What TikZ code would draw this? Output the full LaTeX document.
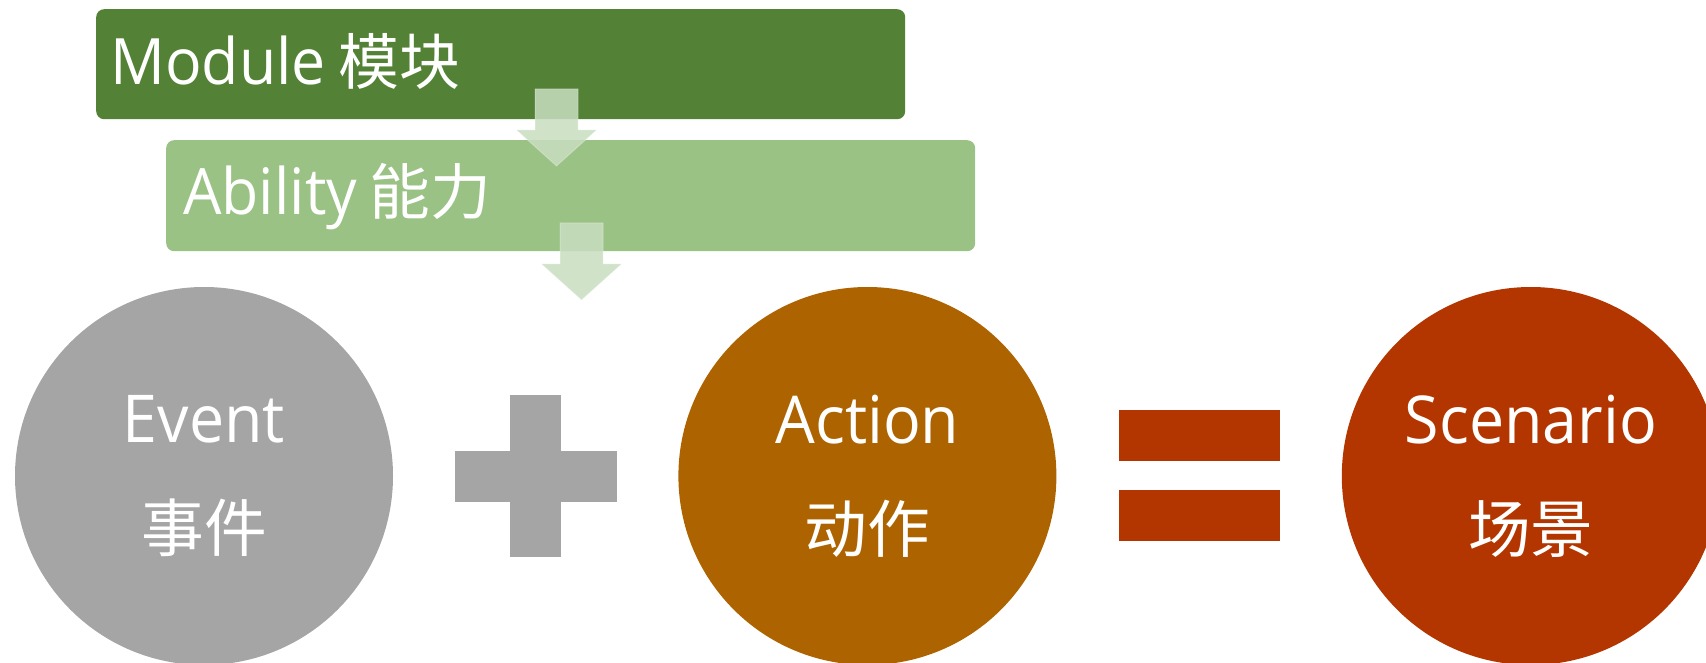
\documentclass[tikz,border=0pt]{standalone}
\usepackage{fontspec}
\setmainfont{Open Sans}[FakeStretch=0.95, WordSpace=0.8]
\newfontfamily\cjk{Noto Sans CJK SC}[Scale=0.95]
\usetikzlibrary{positioning,calc}

\definecolor{moduleGreen}{HTML}{538135}
\definecolor{abilityGreen}{HTML}{9AC285}
\definecolor{arrowGreen}{HTML}{C8DEC0}
\definecolor{eventGray}{HTML}{A5A5A5}
\definecolor{actionOrange}{HTML}{AD6400}
\definecolor{scenarioRed}{HTML}{B33600}

\tikzset{
    layerbox/.style={rectangle, rounded corners=8pt, minimum width=809pt, minimum height=110pt, inner sep=0pt, anchor=north west},
    layertext/.style={text=white, font=\fontsize{64}{77}\selectfont, anchor=base west, inner sep=0pt},
    partcircle/.style={circle, minimum size=378pt, inner sep=0pt, text=white, align=center, font=\fontsize{66}{109}\selectfont},
    flowarrow/.style={fill=arrowGreen, fill opacity=0.85, draw=white, draw opacity=0.25, line width=1pt},
}

\begin{document}
\begin{tikzpicture}[x=1pt, y=-1pt]
    \useasboundingbox (0,0) rectangle (1706,663);
    \clip (0,0) rectangle (1706,663);
    % the two layers
    \node[layerbox, fill=moduleGreen] (module) at (96,9) {};
    \node[layerbox, fill=abilityGreen, minimum height=111pt] (ability) at (166,140) {};
    \node[layertext] (modulelabel) at ([xshift=14pt, yshift=-20pt]module.west) {Module {\cjk 模块}};
    \node[layertext] (abilitylabel) at ([xshift=17pt, yshift=-18.5pt]ability.west) {Ability {\cjk 能力}};
    % block arrows down
    \foreach \x/\y in {556.5/89, 581.5/223}
        \filldraw[flowarrow] (\x,\y) ++(-21.5,0) -- ++(43,0) -- ++(0,41) -- ++(18.5,0) -- ++(-40,36) -- ++(-40,-36) -- ++(18.5,0) -- cycle;
    % event + action = scenario
    \node[partcircle, fill=eventGray] (event) at (204,476) {Event\\{\cjk 事件}};
    \node[partcircle, fill=actionOrange, right=285pt of event] (action) {Action\\{\cjk 动作}};
    \node[partcircle, fill=scenarioRed, right=285pt of action] (scenario) {Scenario\\{\cjk 场景}};
    \coordinate (plus) at ($(event)!0.5!(action)$);
    \coordinate (equals) at ($(action)!0.5!(scenario)$);
    \fill[eventGray] ([xshift=-25.5pt, yshift=81pt]plus) rectangle ([xshift=25.5pt, yshift=-81pt]plus);
    \fill[eventGray] ([xshift=-81pt, yshift=25.5pt]plus) rectangle ([xshift=81pt, yshift=-25.5pt]plus);
    \fill[scenarioRed] ([xshift=-80.5pt, yshift=66pt]equals) rectangle ([xshift=80.5pt, yshift=15pt]equals);
    \fill[scenarioRed] ([xshift=-80.5pt, yshift=-14pt]equals) rectangle ([xshift=80.5pt, yshift=-65pt]equals);
\end{tikzpicture}
\end{document}
